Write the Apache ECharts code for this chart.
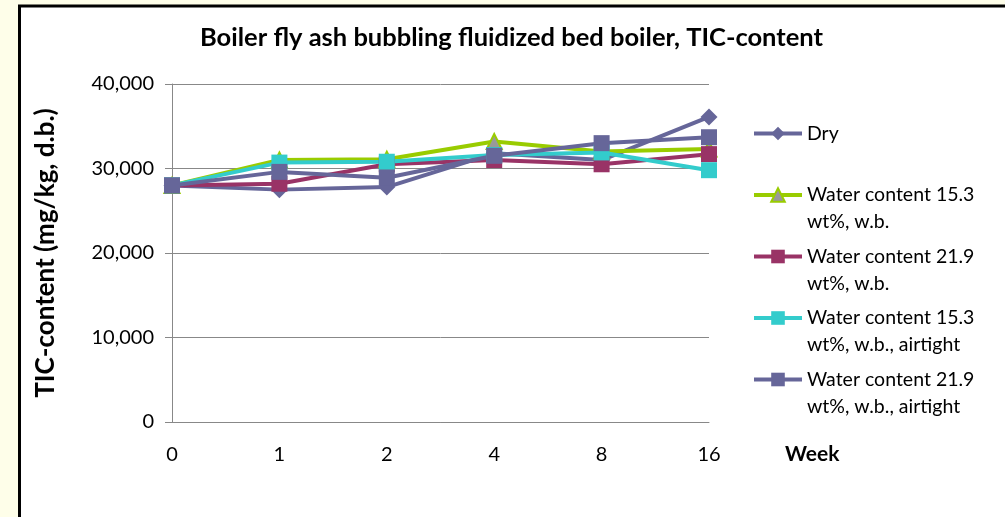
<!DOCTYPE html>
<html>
<head>
<meta charset="utf-8">
<script src="https://cdn.jsdelivr.net/npm/echarts@6/dist/echarts.min.js"></script>
<style>
html, body { margin: 0; padding: 0; background: #fefee9; }
#chart { width: 1005px; height: 517px; }
</style>
</head>
<body>
<div id="chart"></div>
<script>
// weeks on the x axis
const weeks = ['0', '1', '2', '4', '8', '16']

// TIC-content, mg/kg d.b.
const dry = [28000, 27500, 27800, 31800, 31000, 36100]
const wet153 = [28000, 31000, 31100, 33200, 32000, 32300]
const wet219 = [28000, 28200, 30500, 31000, 30500, 31700]
const wet153Airtight = [28000, 30700, 30800, 31600, 31900, 29800]
const wet219Airtight = [28000, 29600, 28900, 31500, 33000, 33700]

const yTicks = [0, 10000, 20000, 30000, 40000]

const seriesNames = [
  'Dry',
  'Water content 15.3\nwt%, w.b.',
  'Water content 21.9\nwt%, w.b.',
  'Water content 15.3\nwt%, w.b., airtight',
  'Water content 21.9\nwt%, w.b., airtight'
]

const FONT = 'Lato, "Open Sans", sans-serif'

function makeSeries (name, data, color, symbol, size, fill) {
  return {
    name: name,
    type: 'line',
    data: data,
    symbol: symbol,
    symbolSize: size,
    showAllSymbol: true,
    lineStyle: { color: color, width: 4 },
    itemStyle: fill
      ? { color: fill, borderColor: color, borderWidth: 2 }
      : { color: color, borderWidth: 0 },
    emphasis: { disabled: true },
    animation: false
  }
}

const option = {
  backgroundColor: '#fefee9',
  animation: false,
  graphic: [
    {
      type: 'rect',
      z: -10,
      shape: { x: 19.5, y: 6, width: 1000, height: 520 },
      style: { fill: '#ffffff', stroke: '#000000', lineWidth: 3 }
    }
  ],
  title: {
    text: 'Boiler fly ash bubbling fluidized bed boiler, TIC-content',
    left: 200,
    top: 25,
    padding: 0,
    textStyle: { fontFamily: FONT, fontSize: 25.5, fontWeight: 'bold', color: '#000' }
  },
  grid: { left: 172, right: 296, top: 84, bottom: 95 },
  legend: {
    orient: 'vertical',
    left: 752,
    top: 93,
    padding: 0,
    itemWidth: 48,
    itemHeight: 17,
    itemGap: -19.5,
    selectedMode: false,
    lineStyle: { width: 4 },
    // a blank line above (and below for one-line names) keeps the icon on the first line
    formatter: name => '\n' + name + (name.indexOf('\n') < 0 ? '\n' : ''),
    textStyle: {
      fontFamily: FONT,
      fontSize: 19.5,
      color: '#000',
      lineHeight: 27
    },
    data: seriesNames
  },
  xAxis: {
    type: 'category',
    data: weeks,
    boundaryGap: false,
    name: 'Week',
    nameLocation: 'end',
    nameGap: 76,
    nameTextStyle: {
      fontFamily: FONT, fontSize: 21, fontWeight: 'bold', color: '#000',
      align: 'left', verticalAlign: 'top', padding: [22, 0, 0, 0]
    },
    axisLine: { lineStyle: { color: '#888', width: 1 } },
    axisTick: { show: false },
    axisLabel: { fontFamily: FONT, fontSize: 20, color: '#000', margin: 23 }
  },
  yAxis: {
    type: 'value',
    min: yTicks[0],
    max: yTicks[yTicks.length - 1],
    interval: yTicks[1] - yTicks[0],
    name: 'TIC-content (mg/kg, d.b.)',
    nameLocation: 'middle',
    nameRotate: 90,
    nameGap: 113,
    nameTextStyle: { fontFamily: FONT, fontSize: 26, fontWeight: 'bold', color: '#000' },
    axisLine: { show: true, lineStyle: { color: '#888', width: 1 } },
    axisTick: { show: true, length: 7, lineStyle: { color: '#888' } },
    axisLabel: {
      fontFamily: FONT, fontSize: 20, color: '#000', margin: 18,
      formatter: v => v.toLocaleString('en-US')
    },
    splitLine: { lineStyle: { color: '#888', width: 1 } }
  },
  series: [
    makeSeries(seriesNames[0], dry, '#666699', 'diamond', 17),
    makeSeries(seriesNames[1], wet153, '#99cc00', 'triangle', 15, '#999999'),
    makeSeries(seriesNames[2], wet219, '#993366', 'rect', 16),
    makeSeries(seriesNames[3], wet153Airtight, '#33cccc', 'rect', 16),
    makeSeries(seriesNames[4], wet219Airtight, '#666699', 'rect', 16)
  ]
}

const chart = echarts.init(document.getElementById('chart'))
chart.setOption(option)
</script>
</body>
</html>
